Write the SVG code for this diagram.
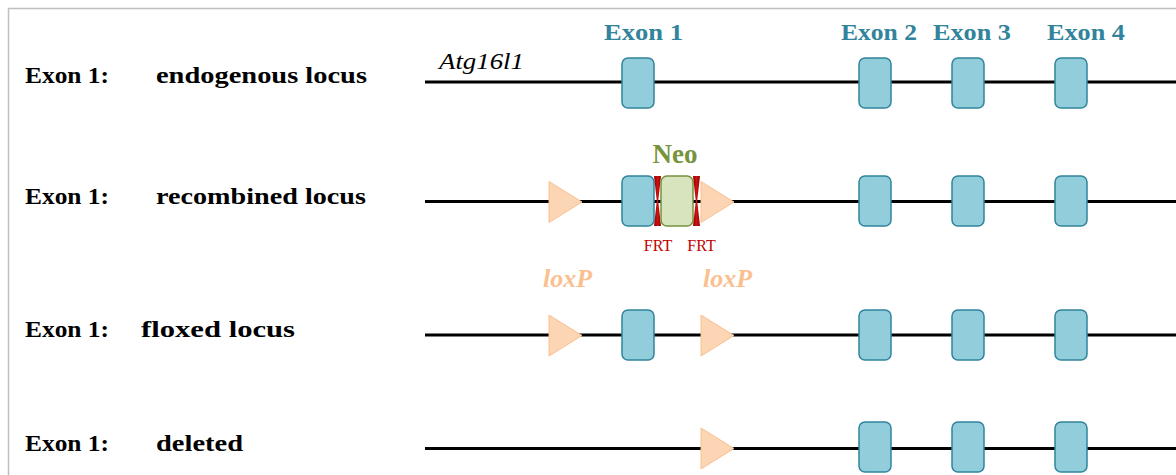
<svg xmlns="http://www.w3.org/2000/svg" width="1176" height="475" viewBox="0 0 1176 475">
<style>
.lbl{font-family:"Liberation Serif","DejaVu Serif",serif;font-weight:bold;font-size:23px;fill:#000}
.ex{font-family:"Liberation Serif","DejaVu Serif",serif;font-weight:bold;font-size:23px;fill:#31849B}
.exon{fill:#92CDDC;stroke:#31849B;stroke-width:1.5}
.neo{fill:#D7E4BD;stroke:#77933C;stroke-width:1.5}
.lox{fill:#FCD5B4;stroke:#FAC090;stroke-width:1}
.frt{fill:url(#frtg)}
.bb{stroke:#000;stroke-width:3;fill:none}
.loxt{font-family:"Liberation Serif","DejaVu Serif",serif;font-weight:bold;font-style:italic;font-size:26px;fill:#FAC090}
.frtt{font-family:"Liberation Serif","DejaVu Serif",serif;font-size:16px;fill:#C00000}
</style>
<defs>
<linearGradient id="frtg" x1="0" y1="0" x2="1" y2="0">
<stop offset="0" stop-color="#8B0000"/><stop offset="0.5" stop-color="#D01010"/><stop offset="1" stop-color="#8B0000"/>
</linearGradient>
<rect id="exbox" class="exon" x="0" y="0" width="32" height="50" rx="6"/>
<polygon id="tri" class="lox" points="0,0 33,20.5 0,41"/>
<polygon id="frtShape" class="frt" points="0,0 7,0 4.2,25 7,50 0,50 2.8,25"/>
</defs>
<rect x="0" y="0" width="1176" height="475" fill="#fff"/>
<path d="M8.5,475 V8.5 H1176" fill="none" stroke="#BFBFBF" stroke-width="1.5"/>

<g id="connectors">
<line class="bb" x1="425" y1="82" x2="1176" y2="82"/>
<line class="bb" x1="425" y1="201.5" x2="1176" y2="201.5"/>
<line class="bb" x1="425" y1="335" x2="1176" y2="335"/>
<line class="bb" x1="425" y1="448.5" x2="1176" y2="448.5"/>
</g>

<g id="row-labels">
<text class="lbl" x="25" y="83" textLength="84" lengthAdjust="spacingAndGlyphs">Exon 1:</text>
<text class="lbl" x="156" y="83" textLength="211" lengthAdjust="spacingAndGlyphs">endogenous locus</text>
<text class="lbl" x="25" y="204" textLength="84" lengthAdjust="spacingAndGlyphs">Exon 1:</text>
<text class="lbl" x="156" y="204" textLength="210" lengthAdjust="spacingAndGlyphs">recombined locus</text>
<text class="lbl" x="25" y="337" textLength="84" lengthAdjust="spacingAndGlyphs">Exon 1:</text>
<text class="lbl" x="141" y="337" textLength="154" lengthAdjust="spacingAndGlyphs">floxed locus</text>
<text class="lbl" x="25" y="451" textLength="84" lengthAdjust="spacingAndGlyphs">Exon 1:</text>
<text class="lbl" x="156" y="451" textLength="87" lengthAdjust="spacingAndGlyphs">deleted</text>
</g>

<g id="exon-labels">
<text class="ex" x="604" y="40" textLength="79" lengthAdjust="spacingAndGlyphs">Exon 1</text>
<text class="ex" x="841" y="40" textLength="76" lengthAdjust="spacingAndGlyphs">Exon 2</text>
<text class="ex" x="933" y="40" textLength="78" lengthAdjust="spacingAndGlyphs">Exon 3</text>
<text class="ex" x="1047" y="40" textLength="78" lengthAdjust="spacingAndGlyphs">Exon 4</text>
<text x="439" y="69" font-family="Liberation Serif, DejaVu Serif, serif" font-style="italic" font-size="23" textLength="85" lengthAdjust="spacingAndGlyphs">Atg16l1</text>
</g>

<g id="row1-endogenous">
<use href="#exbox" x="622" y="58"/>
<use href="#exbox" x="859" y="58"/>
<use href="#exbox" x="952" y="58"/>
<use href="#exbox" x="1055" y="58"/>
</g>

<g id="row2-recombined">
<use href="#tri" x="549" y="181.5"/>
<use href="#exbox" x="622" y="176"/>
<use href="#frtShape" x="654" y="176"/>
<rect id="neo-box" class="neo" x="661" y="176" width="32" height="50" rx="6"/>
<use href="#frtShape" x="693" y="176"/>
<use href="#tri" x="701" y="181.5"/>
<use href="#exbox" x="859" y="176"/>
<use href="#exbox" x="952" y="176"/>
<use href="#exbox" x="1055" y="176"/>
<text x="675" y="163" text-anchor="middle" font-family="Liberation Serif, DejaVu Serif, serif" font-weight="bold" font-size="27" fill="#77933C">Neo</text>
<text class="frtt" x="658" y="251" text-anchor="middle">FRT</text>
<text class="frtt" x="701.5" y="251" text-anchor="middle">FRT</text>
</g>

<g id="row3-floxed">
<text class="loxt" x="543" y="287" textLength="49" lengthAdjust="spacingAndGlyphs">loxP</text>
<text class="loxt" x="703" y="287" textLength="49" lengthAdjust="spacingAndGlyphs">loxP</text>
<use href="#tri" x="549" y="315"/>
<use href="#exbox" x="622" y="310"/>
<use href="#tri" x="701" y="315"/>
<use href="#exbox" x="859" y="310"/>
<use href="#exbox" x="952" y="310"/>
<use href="#exbox" x="1055" y="310"/>
</g>

<g id="row4-deleted">
<use href="#tri" x="701" y="428"/>
<use href="#exbox" x="859" y="422"/>
<use href="#exbox" x="952" y="422"/>
<use href="#exbox" x="1055" y="422"/>
</g>
</svg>
